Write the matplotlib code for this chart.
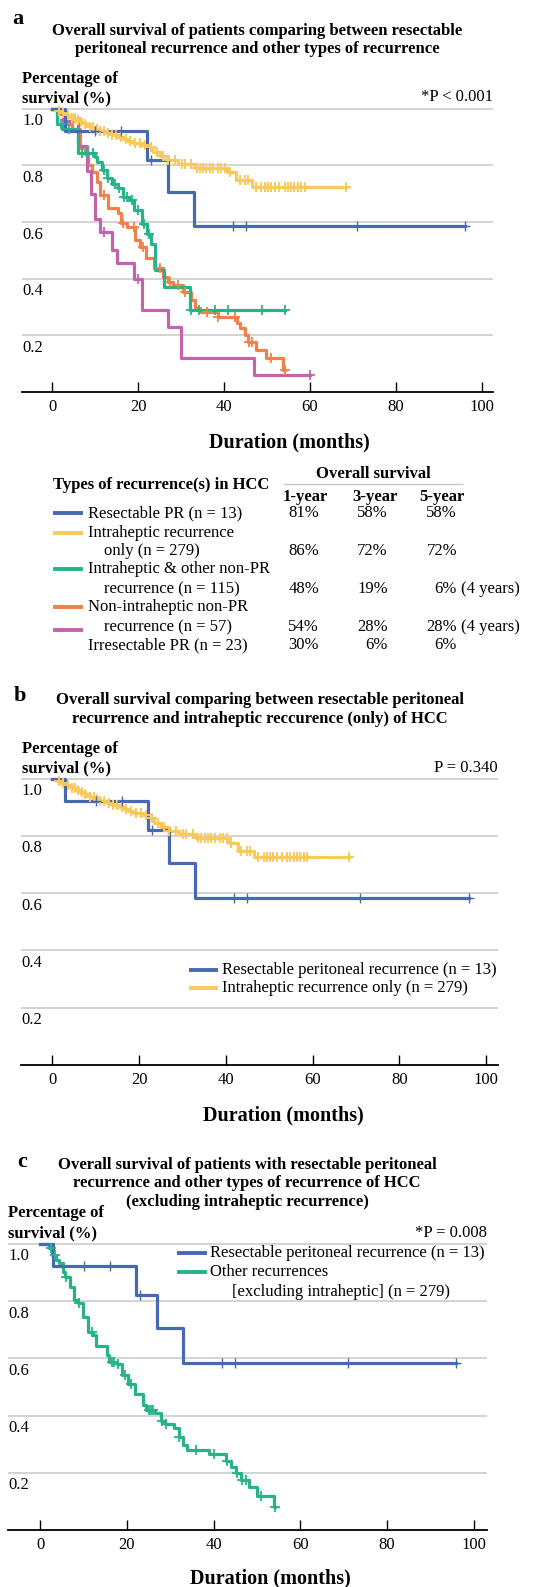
import numpy as np
import matplotlib
matplotlib.use("Agg")
import matplotlib.pyplot as plt
from matplotlib.lines import Line2D

plt.rcParams['font.family'] = ['Liberation Serif', 'DejaVu Serif']

# ---- data (months, survival fraction) ----
blue_t = [0, 3, 22, 27, 33]
blue_s = [1.0, 0.923, 0.82, 0.705, 0.585]
blue_end = 96
blue_cens = [10, 16, 23, 42, 45, 71, 96]

yellow_t = [0, 1, 2, 3.3, 4.5, 5.5, 6.5, 7.5, 8.8, 10, 11, 12.5, 14, 15, 16.5, 17.5,
            18.8, 20.5, 22, 23.5, 25, 27, 29.2, 33.2, 40.8, 42.8, 46.6]
yellow_s = [1.0, 0.993, 0.985, 0.978, 0.968, 0.96, 0.952, 0.945, 0.937, 0.93, 0.922,
            0.915, 0.907, 0.9, 0.893, 0.886, 0.879, 0.872, 0.864, 0.847, 0.832, 0.818,
            0.806, 0.792, 0.776, 0.747, 0.725]
yellow_end = 68.5
yellow_cens = [1.5, 2.5, 3.7, 4.5, 5.3, 6.0, 6.8, 7.6, 8.8, 9.5, 10.3, 11.1, 12, 13, 14,
               14.9, 16.1, 17.1, 18.2, 19.2, 20.4, 21.5, 23.1, 24.3, 25.8, 27, 28.5,
               30.1, 30.9, 32.4, 33.6, 34.3, 35.1, 35.9, 36.7, 37.4, 38.6, 39.4, 40.2,
               41.3, 43.6, 44.8, 45.6, 47.5, 48.7, 49.5, 50.2, 51, 51.8, 52.9, 54.1,
               54.9, 55.7, 56.4, 57.2, 58, 58.8, 68.5]

green_t = [0, 1, 2.3, 6, 10, 10.5, 11.6, 12.7, 14, 15.3, 16.4, 17.9, 19, 20.9, 22,
           23.1, 24, 26, 32]
green_s = [1.0, 0.947, 0.93, 0.842, 0.83, 0.813, 0.784, 0.754, 0.735, 0.719, 0.69,
           0.678, 0.643, 0.594, 0.559, 0.524, 0.43, 0.371, 0.289]
green_end = 54.2
green_cens = [2, 4, 7, 8, 9.5, 12, 13, 14.5, 15.5, 16.8, 17.5, 18.5, 20, 21.3, 22.5,
              32.3, 34.1, 37.8, 40.9, 48.8, 54.2]

orange_t = [0, 1.5, 2.5, 3.5, 4.5, 6.5, 7.5, 8.2, 9.3, 10.5, 11, 13, 15.3, 15.9, 17.3,
            19.2, 20.4, 21.9, 23.6, 25.8, 27, 28.1, 30.5, 32.4, 33.2, 34.3, 38.6, 42.9,
            43.6, 44.8, 45.6, 47.5, 49.8, 53.7]
orange_s = [1.0, 0.982, 0.965, 0.947, 0.93, 0.86, 0.84, 0.80, 0.778, 0.743, 0.695,
            0.648, 0.631, 0.595, 0.584, 0.536, 0.513, 0.472, 0.436, 0.407, 0.389, 0.378,
            0.354, 0.325, 0.295, 0.281, 0.266, 0.242, 0.225, 0.201, 0.178, 0.148, 0.119,
            0.078]
orange_end = 54.1
orange_cens = [12, 16.5, 19.1, 21.2, 25.1, 27.5, 29.2, 30.9, 36, 38.7, 42.5, 45.8,
               46.6, 51, 54.1]

purple_t = [0, 2.5, 6, 8, 9, 10, 11, 14, 15, 19, 21, 27, 30, 47]
purple_s = [1.0, 0.957, 0.87, 0.78, 0.70, 0.61, 0.565, 0.50, 0.455, 0.40, 0.29, 0.23,
            0.12, 0.06]
purple_end = 60
purple_cens = [12, 20, 60]

other_t = [0, 1.9, 2.8, 3.6, 4.3, 5.3, 5.8, 6.9, 7.7, 8.8, 9.9, 11, 12.2, 12.9, 15.5,
           15.9, 17.8, 18.9, 20.3, 21.8, 23.7, 24.5, 26.5, 27.8, 28.7, 30.9, 31.9, 32.9,
           33.8, 39, 42.9, 44, 45.2, 46.3, 48.2, 49.9, 54]
other_s = [1.0, 0.985, 0.962, 0.944, 0.932, 0.903, 0.886, 0.851, 0.804, 0.793, 0.746,
           0.693, 0.682, 0.645, 0.612, 0.586, 0.580, 0.542, 0.511, 0.474, 0.437, 0.42,
           0.409, 0.382, 0.37, 0.357, 0.326, 0.297, 0.281, 0.264, 0.242, 0.221, 0.198,
           0.175, 0.149, 0.12, 0.082]
other_end = 54.2
other_cens = [2.5, 3.5, 6, 9, 12, 16.5, 17, 18, 19.5, 21, 25, 25.5, 26, 28, 29, 32, 36,
              40, 43, 45.5, 46.5, 47.5, 51, 54.2]

xticks = [0, 20, 40, 60, 80, 100]
yticks = [0.2, 0.4, 0.6, 0.8, 1.0]

BLUE = '#4669b2'
YELLOW = '#f9c95c'
GREEN = '#27b38a'
ORANGE = '#f2804a'
PURPLE = '#c263ab'
GRID = '#c8c8c8'

# table
table_rows = [
    (BLUE, ['Resectable PR (n = 13)'], ['81%', '58%', '58%'], ''),
    (YELLOW, ['Intraheptic recurrence', 'only (n = 279)'], ['86%', '72%', '72%'], ''),
    (GREEN, ['Intraheptic & other non-PR', 'recurrence (n = 115)'], ['48%', '19%', '6%'], '(4 years)'),
    (ORANGE, ['Non-intraheptic non-PR', 'recurrence (n = 57)'], ['54%', '28%', '28%'], '(4 years)'),
    (None, ['Irresectable PR (n = 23)'], ['30%', '6%', '6%'], ''),
]

W, H = 541, 1587
fig = plt.figure(figsize=(W / 100, H / 100), dpi=100)

FS = 12          # regular text
FS_T = 12        # bold titles
FS_D = 14.5      # axis title


def ftext(x, y, s, **kw):
    kw.setdefault('va', 'center')
    fig.text(x / W, 1 - y / H, s, **kw)


def fline(x0, x1, y, color, lw):
    fig.add_artist(Line2D([x0 / W, x1 / W], [1 - y / H, 1 - y / H], color=color, lw=lw,
                          transform=fig.transFigure, solid_capstyle='butt'))


def make_axes(left, right, x0px, x100px, y1px, y0px):
    # axes spanning pixels left..right; x=0 at x0px, x=100 at x100px; y=1 at y1px, y=0 at y0px
    ppm = (x100px - x0px) / 100.0
    ymax = 1.03
    top = y0px - ymax * (y0px - y1px)
    ax = fig.add_axes([left / W, 1 - y0px / H, (right - left) / W, (y0px - top) / H])
    ax.set_xlim((left - x0px) / ppm, (right - x0px) / ppm)
    ax.set_ylim(0, ymax)
    for sp in ['top', 'left', 'right']:
        ax.spines[sp].set_visible(False)
    ax.spines['bottom'].set_linewidth(1.3)
    ax.set_xticks(xticks)
    ax.tick_params(axis='x', direction='in', length=7, width=1.0, labelsize=12, pad=5)
    ax.set_yticks([])
    for v in yticks:
        ax.axhline(v, color=GRID, lw=1.1, zorder=0)
        ax.annotate('%.1f' % v, xy=(0, v), xycoords=('axes fraction', 'data'),
                    xytext=(0, -9), textcoords='offset points', ha='left', va='center',
                    fontsize=12)
    ax.patch.set_alpha(0)
    return ax


def km(ax, t, s, end, cens, color, ms=6, mew=1.0, lw=2.3):
    tt = list(t) + [end]
    ss = list(s) + [s[-1]]
    ax.step(tt, ss, where='post', color=color, lw=lw, clip_on=False, zorder=3)
    idx = np.searchsorted(np.array(t), np.array(cens), side='right') - 1
    cy = np.array(s)[idx]
    ax.plot(cens, cy, ls='none', marker='+', ms=ms, mew=mew, color=color,
            clip_on=False, zorder=4)


title_kw = dict(fontsize=FS_T, fontweight='bold', ha='center')
ylab_kw = dict(fontsize=FS_T, fontweight='bold', ha='left')

# ---------------- panel a ----------------
ftext(12, 19, 'a', fontsize=16, fontweight='bold', ha='left')
ftext(257, 31, 'Overall survival of patients comparing between resectable', **title_kw)
ftext(257, 49, 'peritoneal recurrence and other types of recurrence', **title_kw)
ftext(22, 79, 'Percentage of', **ylab_kw)
ftext(22, 98, 'survival (%)', **ylab_kw)
ftext(493, 97, '*P < 0.001', fontsize=FS, ha='right')

axa = make_axes(22, 493, 52.3, 481.7, 108.7, 392)
km(axa, yellow_t, yellow_s, yellow_end, yellow_cens, YELLOW, ms=7, mew=1.4)
km(axa, orange_t, orange_s, orange_end, orange_cens, ORANGE, ms=7, mew=1.3)
km(axa, purple_t, purple_s, purple_end, purple_cens, PURPLE, ms=7, mew=1.3)
km(axa, green_t, green_s, green_end, green_cens, GREEN, ms=7, mew=1.3)
km(axa, blue_t, blue_s, blue_end, blue_cens, BLUE, ms=6.5, mew=1.0)
ftext(289, 442, 'Duration (months)', fontsize=FS_D, fontweight='bold', ha='center')

# table
ftext(373, 474, 'Overall survival', fontsize=FS, fontweight='bold', ha='center')
fline(283, 463, 484, GRID, 1.0)
ftext(53, 485, 'Types of recurrence(s) in HCC', fontsize=FS, fontweight='bold', ha='left')
for x, lab in zip([283, 352, 419], ['1-year', '3-year', '5-year']):
    ftext(x, 497, lab, fontsize=FS, fontweight='bold', ha='left')

row_y = [[513], [533, 551], [569, 589], [607, 627], [645]]
col_right = [319, 388, 457]
for (color, names, pcts, extra), ys in zip(table_rows, row_y):
    if color is not None:
        fline(53, 83, ys[0], color, 2.8)
    ftext(88, ys[0], names[0], fontsize=FS, ha='left')
    if len(names) > 1:
        ftext(104, ys[1], names[1], fontsize=FS, ha='left')
    for xr, p in zip(col_right, pcts):
        ftext(xr, ys[-1], p, fontsize=FS, ha='right')
    if extra:
        ftext(461, ys[-1], extra, fontsize=FS, ha='left')
fline(53, 83, 630, PURPLE, 2.8)

# ---------------- panel b ----------------
ftext(14, 696, 'b', fontsize=16, fontweight='bold', ha='left')
ftext(260, 700, 'Overall survival comparing between resectable peritoneal', **title_kw)
ftext(260, 719, 'recurrence and intraheptic reccurence (only) of HCC', **title_kw)
ftext(22, 749, 'Percentage of', **ylab_kw)
ftext(22, 768, 'survival (%)', **ylab_kw)
ftext(498, 768, 'P = 0.340', fontsize=FS, ha='right')

axb = make_axes(21, 498, 52.3, 486, 778.7, 1065)
km(axb, yellow_t, yellow_s, yellow_end, yellow_cens, YELLOW, ms=7, mew=1.4)
km(axb, blue_t, blue_s, blue_end, blue_cens, BLUE, ms=6.5, mew=1.0)
fline(189, 218, 970, BLUE, 2.8)
ftext(222, 970, 'Resectable peritoneal recurrence (n = 13)', fontsize=FS, ha='left')
fline(189, 218, 988, YELLOW, 2.8)
ftext(222, 988, 'Intraheptic recurrence only (n = 279)', fontsize=FS, ha='left')
ftext(283, 1115, 'Duration (months)', fontsize=FS_D, fontweight='bold', ha='center')

# ---------------- panel c ----------------
ftext(17, 1162, 'c', fontsize=16, fontweight='bold', ha='left')
ftext(247, 1165, 'Overall survival of patients with resectable peritoneal', **title_kw)
ftext(247, 1183, 'recurrence and other types of recurrence of HCC', **title_kw)
ftext(247, 1202, '(excluding intraheptic recurrence)', **title_kw)
ftext(8, 1213, 'Percentage of', **ylab_kw)
ftext(8, 1233, 'survival (%)', **ylab_kw)
ftext(487, 1233, '*P = 0.008', fontsize=FS, ha='right')

axc = make_axes(8, 487, 40.3, 473.7, 1244, 1530)
km(axc, other_t, other_s, other_end, other_cens, GREEN, ms=7, mew=1.3)
km(axc, blue_t, blue_s, blue_end, blue_cens, BLUE, ms=6.5, mew=1.0)
fline(177, 207, 1253, BLUE, 2.8)
ftext(210, 1253, 'Resectable peritoneal recurrence (n = 13)', fontsize=FS, ha='left')
fline(177, 207, 1272, GREEN, 2.8)
ftext(210, 1272, 'Other recurrences', fontsize=FS, ha='left')
ftext(232, 1292, '[excluding intraheptic] (n = 279)', fontsize=FS, ha='left')
ftext(270, 1578, 'Duration (months)', fontsize=FS_D, fontweight='bold', ha='center')

fig.savefig('out.png', dpi=100)
